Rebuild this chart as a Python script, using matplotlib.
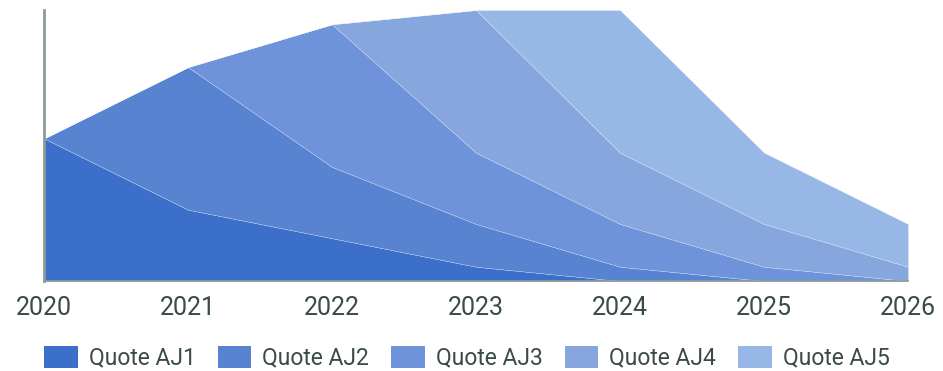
import matplotlib
matplotlib.use("Agg")
import matplotlib.pyplot as plt

years = [2020, 2021, 2022, 2023, 2024, 2025, 2026]
quote_aj1 = [10, 5, 3, 1, 0, 0, 0]
quote_aj2 = [0, 10, 5, 3, 1, 0, 0]
quote_aj3 = [0, 0, 10, 5, 3, 1, 0]
quote_aj4 = [0, 0, 0, 10, 5, 3, 1]
quote_aj5 = [0, 0, 0, 0, 10, 5, 3]
series_names = ["Quote AJ1", "Quote AJ2", "Quote AJ3", "Quote AJ4", "Quote AJ5"]
colors = ["#3c6fca", "#5783d0", "#6e93da", "#87a6de", "#97b8e6"]

text_color = "#3a4b46"
axis_color = "#8c9c96"

plt.rcParams["font.family"] = ["Roboto", "DejaVu Sans"]

fig = plt.figure(figsize=(9.43, 3.71), dpi=100)
ax = fig.add_axes([0.0467, 0.2426, 0.9162, 0.7304])

polys = ax.stackplot(years, quote_aj1, quote_aj2, quote_aj3, quote_aj4, quote_aj5,
                     colors=colors, labels=series_names,
                     edgecolor=(1, 1, 1, 0.5), linewidth=0.3)

ax.set_xlim(years[0], years[-1])
ax.set_ylim(0, 19)
ax.set_yticks([])
ax.set_xticks(years)
ax.set_xticklabels([str(y) for y in years], fontsize=18, color=text_color)
ax.tick_params(axis="x", length=0, pad=11)

for side in ("top", "right"):
    ax.spines[side].set_visible(False)
ax.spines["left"].set_color(axis_color)
ax.spines["left"].set_linewidth(2)
ax.spines["bottom"].set_color(axis_color)
ax.spines["bottom"].set_linewidth(1.2)

leg = fig.legend(handles=polys, labels=series_names, loc="center left",
                 bbox_to_anchor=(44 / 943, 1 - 358 / 371), ncol=5, frameon=False,
                 fontsize=16.5, handlelength=1.48, handleheight=1.08,
                 handletextpad=0.48, columnspacing=0.95, borderaxespad=0,
                 borderpad=0)
for t in leg.get_texts():
    t.set_color(text_color)
for h in leg.legend_handles:
    h.set_edgecolor("none")

fig.savefig("out.png", dpi=100)
